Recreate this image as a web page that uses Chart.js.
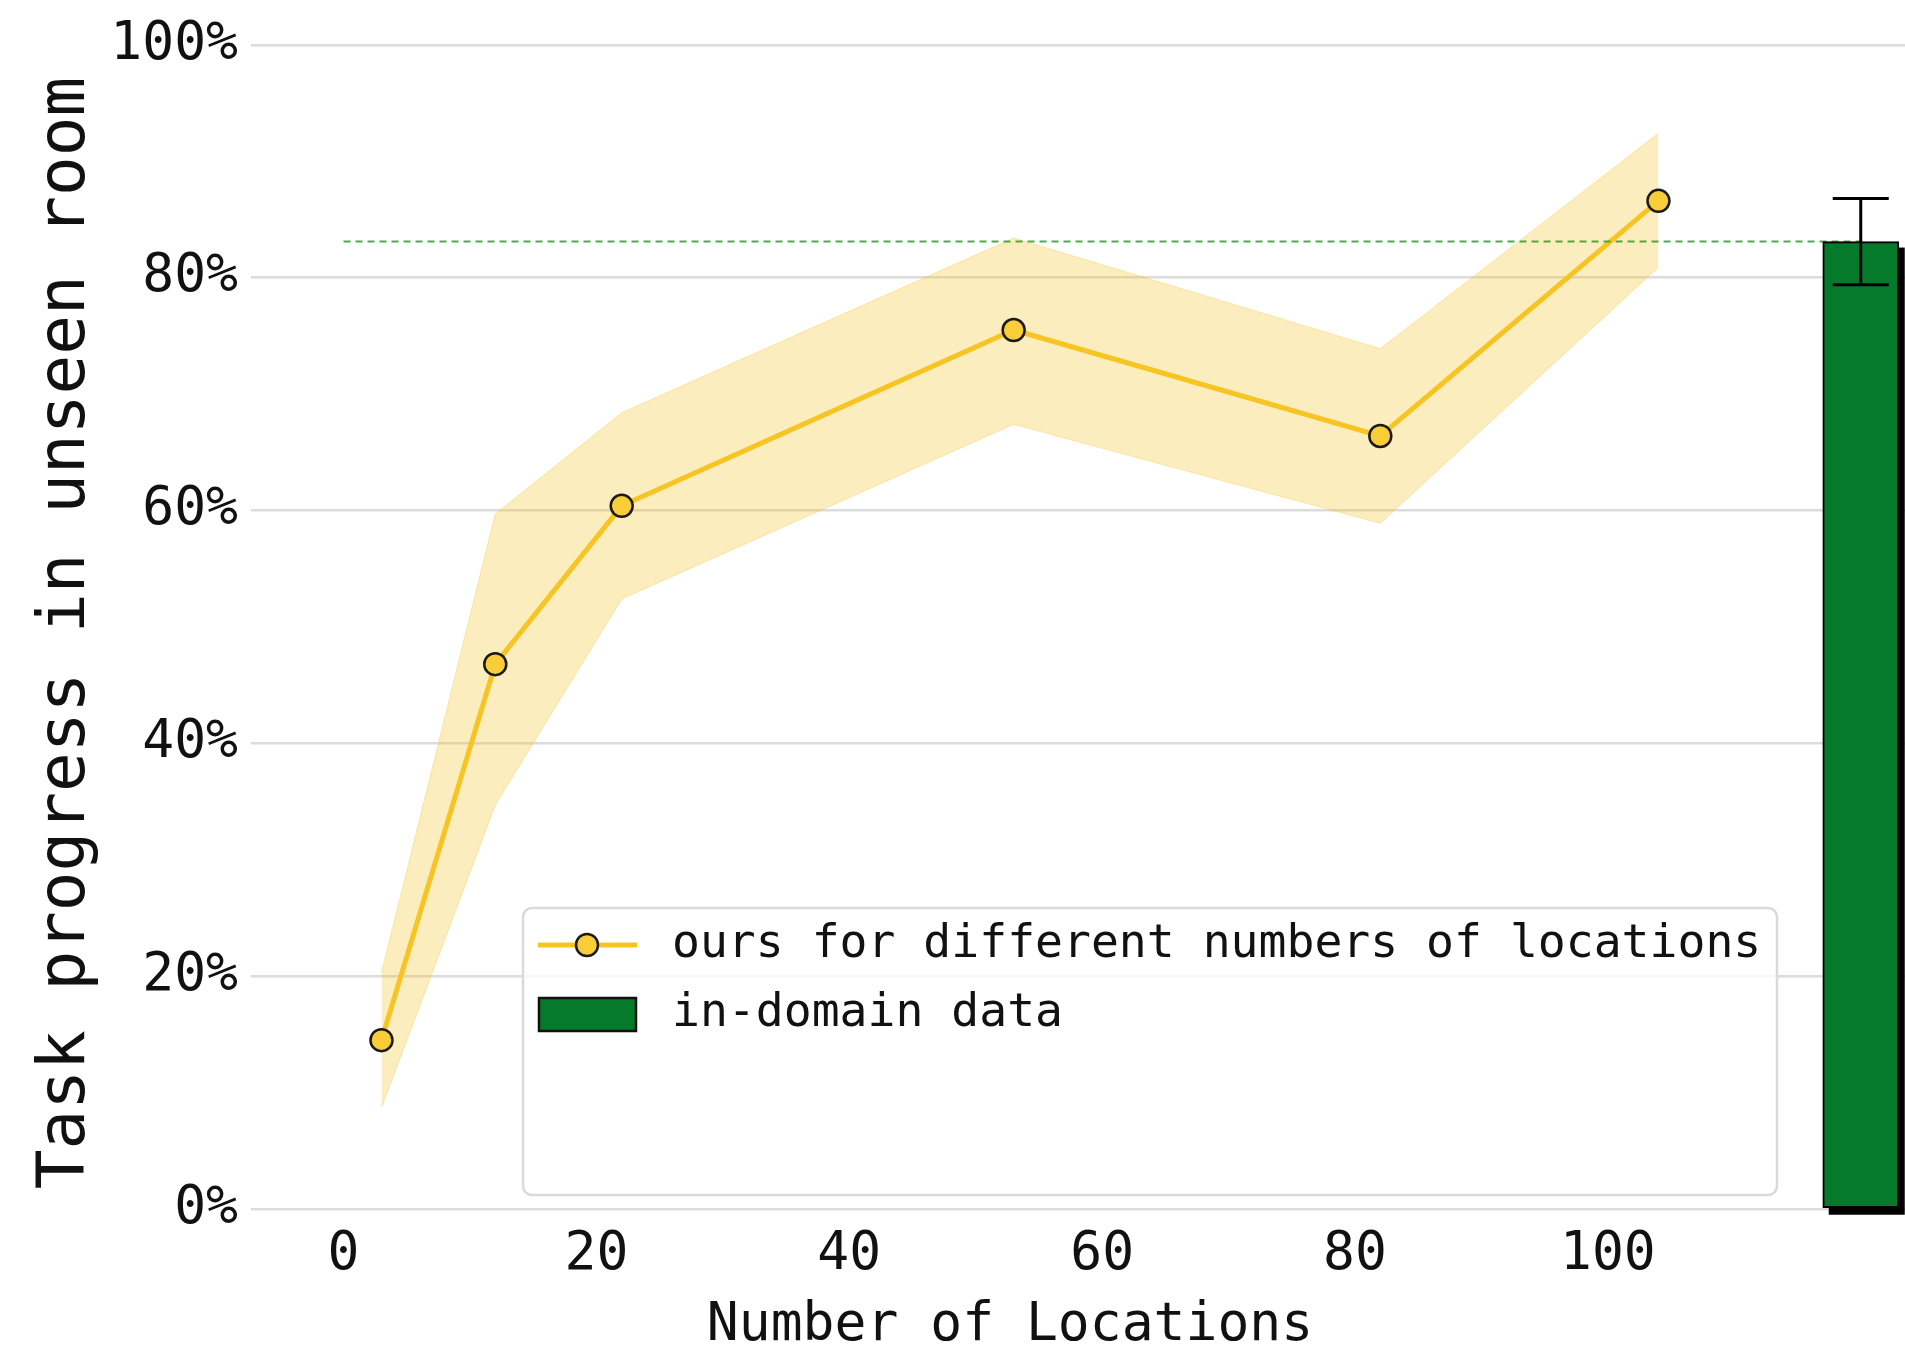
<!DOCTYPE html>
<html>
<head>
<meta charset="utf-8">
<title>Task progress vs. number of locations</title>
<script src="https://cdn.jsdelivr.net/npm/chart.js@4/dist/chart.umd.min.js"></script>
<style>
  html, body { margin: 0; padding: 0; background: #ffffff; }
  #wrap { width: 1905px; height: 1349px; }
</style>
</head>
<body>
<div id="wrap"><canvas id="chart" width="1905" height="1349"></canvas></div>
<script>
// Number of training locations and task progress (%) in an unseen room
const locations    = [3, 12, 22, 53, 82, 104];
const progressMean = [14.5, 46.8, 60.4, 75.5, 66.4, 86.6];
const progressLow  = [8.7, 34.7, 52.4, 67.4, 58.9, 80.9];
const progressHigh = [20.3, 59.7, 68.4, 83.4, 73.9, 92.4];

// In-domain reference result (bar with error bar)
const inDomainX    = [120];
const inDomainMean = [83.1];
const inDomainErr  = [3.7];

// Axis ticks
const xTickValues = [0, 20, 40, 60, 80, 100];
const yTickValues = [0, 20, 40, 60, 80, 100];
const yTickLabels = ['0%', '20%', '40%', '60%', '80%', '100%'];

const xAxisTitle = 'Number of Locations';
const yAxisTitle = 'Task progress in unseen room';
const seriesLabels = ['ours for different numbers of locations', 'in-domain data'];

const FONT = '"DejaVu Sans Mono", "Liberation Mono", monospace';
const GOLD = '#f6c523';
const GOLD_FILL = '#f9cd38';
const BAND = 'rgba(246, 196, 40, 0.30)';
const GREEN = '#067a2b';

const pts = (xs, ys) => xs.map((x, i) => ({ x: x, y: ys[i] }));

// Solid shadow under the in-domain bar (offset to the lower right),
// taken from the bar element geometry computed by Chart.js
const barShadow = {
  id: 'barShadow',
  beforeDatasetDraw(chart, args) {
    if (args.meta.type !== 'bar') return;
    const ctx = chart.ctx;
    ctx.save();
    ctx.fillStyle = '#000000';
    args.meta.data.forEach(bar => {
      const { x, y, base, width } = bar.getProps(['x', 'y', 'base', 'width'], true);
      ctx.fillRect(x - width / 2 + 6, y + 6, width, base - y + 1);
    });
    ctx.restore();
  }
};

// Error bars for the in-domain bar, placed through the chart scales
const errorBars = {
  id: 'errorBars',
  afterDatasetsDraw(chart) {
    const { ctx, scales: { x, y } } = chart;
    ctx.save();
    ctx.strokeStyle = '#000000';
    ctx.lineWidth = 3;
    inDomainX.forEach((xv, i) => {
      const px = x.getPixelForValue(xv);
      const top = y.getPixelForValue(inDomainMean[i] + inDomainErr[i]);
      const bot = y.getPixelForValue(inDomainMean[i] - inDomainErr[i]);
      const cap = 28;
      ctx.beginPath();
      ctx.moveTo(px, top); ctx.lineTo(px, bot);
      ctx.moveTo(px - cap, top); ctx.lineTo(px + cap, top);
      ctx.moveTo(px - cap, bot); ctx.lineTo(px + cap, bot);
      ctx.stroke();
    });
    ctx.restore();
  }
};

// Axis titles
const axisTitles = {
  id: 'axisTitles',
  afterDraw(chart) {
    const ctx = chart.ctx;
    ctx.save();
    ctx.fillStyle = '#111111';
    ctx.textAlign = 'center';

    ctx.font = '53px ' + FONT;
    ctx.textBaseline = 'alphabetic';
    ctx.fillText(xAxisTitle, 1010, 1340);

    ctx.translate(67, 633);
    ctx.rotate(-Math.PI / 2);
    ctx.font = '66px ' + FONT;
    ctx.textBaseline = 'middle';
    ctx.fillText(yAxisTitle, 0, 0);
    ctx.restore();
  }
};

// Framed legend inside the plot area
const legendBox = {
  id: 'legendBox',
  afterDraw(chart) {
    const ctx = chart.ctx;
    const bx = 523, by = 908, bw = 1254, bh = 287, r = 9;
    ctx.save();
    ctx.beginPath();
    ctx.roundRect(bx, by, bw, bh, r);
    ctx.fillStyle = 'rgba(255,255,255,0.8)';
    ctx.fill();
    ctx.lineWidth = 2.5;
    ctx.strokeStyle = '#dadada';
    ctx.stroke();

    // row 1: line with marker
    const y1 = 945;
    ctx.beginPath();
    ctx.moveTo(538, y1); ctx.lineTo(637, y1);
    ctx.lineWidth = 5;
    ctx.strokeStyle = GOLD;
    ctx.stroke();
    ctx.beginPath();
    ctx.arc(587, y1, 11, 0, Math.PI * 2);
    ctx.fillStyle = GOLD_FILL;
    ctx.fill();
    ctx.lineWidth = 2.5;
    ctx.strokeStyle = '#1a1a1a';
    ctx.stroke();

    // row 2: filled patch
    ctx.beginPath();
    ctx.rect(539, 998, 97, 33);
    ctx.fillStyle = GREEN;
    ctx.fill();
    ctx.lineWidth = 2.5;
    ctx.strokeStyle = '#111111';
    ctx.stroke();

    ctx.fillStyle = '#111111';
    ctx.font = '46.4px ' + FONT;
    ctx.textBaseline = 'middle';
    ctx.textAlign = 'left';
    ctx.fillText(seriesLabels[0], 672, y1);
    ctx.fillText(seriesLabels[1], 672, 1014);
    ctx.restore();
  }
};

new Chart(document.getElementById('chart'), {
  type: 'line',
  data: {
    datasets: [
      {
        label: 'upper',
        data: pts(locations, progressHigh),
        borderColor: 'rgba(246, 196, 40, 0.35)',
        borderWidth: 1,
        backgroundColor: BAND,
        fill: '+1',
        pointRadius: 0,
        tension: 0,
        order: 5
      },
      {
        label: 'lower',
        data: pts(locations, progressLow),
        borderColor: 'rgba(246, 196, 40, 0.35)',
        borderWidth: 1,
        fill: false,
        pointRadius: 0,
        tension: 0,
        order: 4
      },
      {
        label: seriesLabels[0],
        data: pts(locations, progressMean),
        borderColor: GOLD,
        borderWidth: 5,
        pointRadius: 11,
        pointBackgroundColor: GOLD_FILL,
        pointBorderColor: '#1a1a1a',
        pointBorderWidth: 2.5,
        fill: false,
        tension: 0,
        order: 2
      },
      {
        label: 'in-domain level',
        data: [{ x: 0, y: inDomainMean[0] }, { x: inDomainX[0], y: inDomainMean[0] }],
        borderColor: 'rgba(44, 160, 44, 0.85)',
        borderWidth: 2,
        borderDash: [7, 5],
        pointRadius: 0,
        fill: false,
        order: 1
      },
      {
        type: 'bar',
        label: seriesLabels[1],
        data: pts(inDomainX, inDomainMean),
        backgroundColor: GREEN,
        borderColor: '#000000',
        borderWidth: 2,
        borderSkipped: false,
        barThickness: 76,
        clip: false,
        order: 0
      }
    ]
  },
  options: {
    responsive: false,
    animation: false,
    devicePixelRatio: 1,
    layout: { autoPadding: false, padding: { top: 42, right: 0, bottom: 0, left: 0 } },
    plugins: {
      legend: { display: false },
      tooltip: { enabled: false }
    },
    scales: {
      x: {
        type: 'linear',
        offset: false,
        bounds: 'data',
        min: -7.32,
        max: 123.5,
        afterBuildTicks(scale) { scale.ticks = xTickValues.map(v => ({ value: v })); },
        afterFit(scale) {
          scale.height = 140;
          scale.paddingLeft = 0;
          scale.paddingRight = 0;
        },
        grid: { display: false, drawTicks: false, offset: false },
        border: { display: false },
        ticks: {
          color: '#111111',
          font: { family: FONT, size: 53 },
          padding: 14,
          maxRotation: 0,
          callback: v => String(v)
        },
        title: { display: false }
      },
      y: {
        min: 0,
        max: 100,
        afterBuildTicks(scale) { scale.ticks = yTickValues.map(v => ({ value: v })); },
        afterFit(scale) { scale.width = 251; },
        grid: { color: '#dcdcdc', lineWidth: 2.5, drawTicks: false },
        border: { display: false },
        ticks: {
          color: '#111111',
          font: { family: FONT, size: 53 },
          padding: 13,
          callback: v => yTickLabels[yTickValues.indexOf(v)]
        },
        title: { display: false }
      }
    }
  },
  plugins: [barShadow, errorBars, axisTitles, legendBox]
});
</script>
</body>
</html>
